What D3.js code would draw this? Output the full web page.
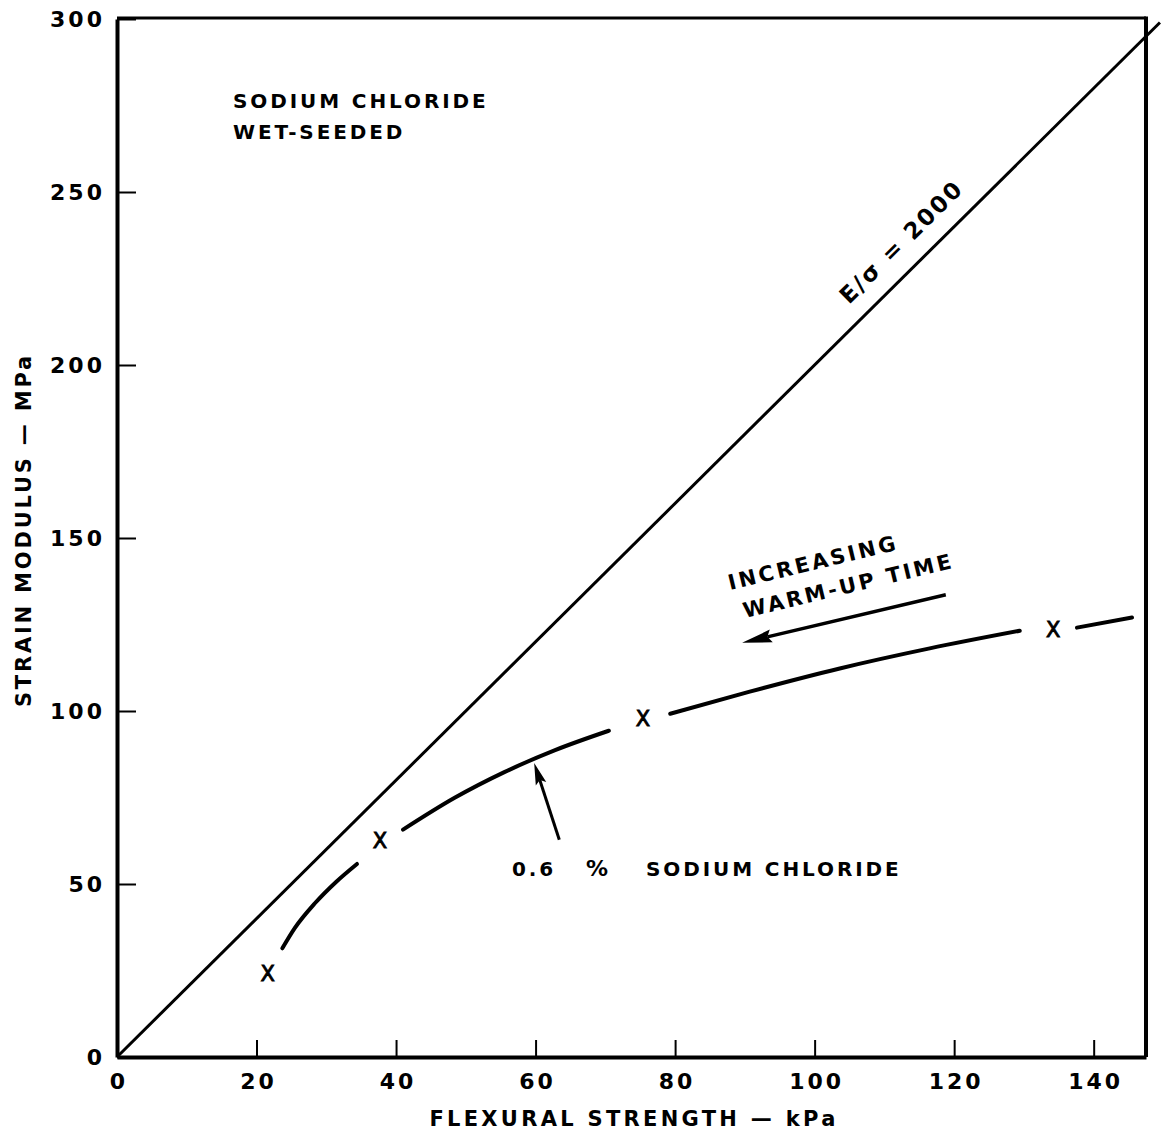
<!DOCTYPE html>
<html>
<head>
<meta charset="utf-8">
<script src="https://cdn.jsdelivr.net/npm/d3@7"></script>
<style>
  body { margin: 0; background: #fff; }
  text { font-family: "DejaVu Sans", sans-serif; font-weight: bold; fill: #000; }
</style>
</head>
<body>
<script>
// strain modulus vs flexural strength, sodium chloride wet-seeded
var xTicks = [0, 20, 40, 60, 80, 100, 120, 140];
var yTicks = [0, 50, 100, 150, 200, 250, 300];

// E/sigma = 2000  ->  MPa = 2 * kPa
var ratio = 2;
var ratioSpan = [0, 149.5];

// 0.6 % sodium chloride curve, drawn in pieces broken at the X points
var curveSegs = [
  [[23.7, 31.4], [25.5, 37.3], [28.4, 44.5], [31.4, 50.6], [34.4, 55.8]],
  [[41.0, 65.7], [48.4, 74.9], [55.6, 82.4], [62.8, 88.7], [70.5, 94.3]],
  [[79.3, 99.2], [90.7, 105.6], [103.6, 112.3], [116.5, 118.1], [129.4, 123.2]],
  [[137.6, 124.1], [145.5, 127.0]]
];
var markers = [[21.6, 24.3], [37.7, 62.8], [75.4, 98.1], [134.2, 123.8]];

// annotation arrows [from, to] in data units
var arrowWarm = [[118.8, 133.6], [89.6, 119.7]];
var arrowSalt = [[63.4, 62.8], [59.8, 85.0]];

var W = 1161, H = 1139;
var mLeft = 117, mRight = 1146, mTop = 18, mBottom = 1057;

var svg = d3.select("body").append("svg")
                           .attr("width", W)
                           .attr("height", H);

var x = d3.scaleLinear().domain([0, 147.5]).range([mLeft, mRight]);
var y = d3.scaleLinear().domain([0, 300]).range([mBottom, mTop + 1]);

// frame
svg.append("line").attr("x1", mLeft).attr("x2", mRight).attr("y1", mTop).attr("y2", mTop)
   .attr("stroke", "#000").attr("stroke-width", 3);
svg.append("line").attr("x1", mRight).attr("x2", mRight).attr("y1", mTop - 1.5).attr("y2", mBottom)
   .attr("stroke", "#000").attr("stroke-width", 4);

var xAxis = svg.append("g")
               .attr("transform", "translate(0," + mBottom + ")")
               .call(d3.axisBottom(x).tickValues(xTicks).tickSizeInner(-17).tickSizeOuter(0).tickPadding(16));
var yAxis = svg.append("g")
               .attr("transform", "translate(" + mLeft + ",0)")
               .call(d3.axisLeft(y).tickValues(yTicks).tickSizeInner(-19).tickSizeOuter(0).tickPadding(12));

[xAxis, yAxis].forEach(function(a) {
  a.select(".domain").attr("stroke-width", 4).attr("stroke", "#000");
  a.selectAll(".tick line").attr("stroke-width", 2).attr("stroke", "#000");
  a.selectAll(".tick text")
   .attr("font-size", 22).attr("letter-spacing", 3)
   .style("font-family", "DejaVu Sans").style("font-weight", "bold");
});
xAxis.selectAll(".tick text").attr("dx", 1.5);

// axis titles
svg.append("text").attr("x", 634).attr("y", 1126)
   .attr("text-anchor", "middle").attr("font-size", 21).attr("letter-spacing", 3.3)
   .text("FLEXURAL STRENGTH \u2014 kPa");
svg.append("text").attr("transform", "translate(31,530) rotate(-90)")
   .attr("text-anchor", "middle").attr("font-size", 21).attr("letter-spacing", 2.8)
   .text("STRAIN MODULUS \u2014 MPa");

// E/sigma line
svg.append("line")
   .attr("x1", x(ratioSpan[0])).attr("y1", y(ratioSpan[0] * ratio))
   .attr("x2", x(ratioSpan[1])).attr("y2", y(ratioSpan[1] * ratio))
   .attr("stroke", "#000").attr("stroke-width", 3);

var ang = Math.atan2(y(100 * ratio) - y(0), x(100) - x(0)) * 180 / Math.PI;
svg.append("text")
   .attr("transform", "translate(" + (x(105.2) - 2) + "," + (y(210.4) - 24) + ") rotate(" + ang + ")")
   .attr("font-size", 23).attr("letter-spacing", 2.2)
   .text("E/\u03c3 = 2000");

// curve
var line = d3.line()
             .x(function(d) { return x(d[0]); })
             .y(function(d) { return y(d[1]); })
             .curve(d3.curveMonotoneX);

svg.selectAll("path.seg")
   .data(curveSegs)
   .enter()
   .append("path")
   .attr("class", "seg")
   .attr("d", line)
   .attr("fill", "none")
   .attr("stroke", "#000")
   .attr("stroke-width", 4)
   .attr("stroke-linecap", "round");

svg.selectAll("text.mark")
   .data(markers)
   .enter()
   .append("text")
   .attr("class", "mark")
   .attr("x", function(d) { return x(d[0]); })
   .attr("y", function(d) { return y(d[1]) + 8; })
   .attr("text-anchor", "middle")
   .attr("font-size", 21)
   .style("font-weight", "normal")
   .style("stroke", "#000").style("stroke-width", 0.9)
   .text("X");

// arrows
function arrow(a, head, width, sw) {
  var x0 = x(a[0][0]), y0 = y(a[0][1]), x1 = x(a[1][0]), y1 = y(a[1][1]);
  var dx = x1 - x0, dy = y1 - y0, L = Math.sqrt(dx * dx + dy * dy);
  var ux = dx / L, uy = dy / L;
  var bx = x1 - ux * head, by = y1 - uy * head;
  svg.append("line").attr("x1", x0).attr("y1", y0).attr("x2", bx + ux * 4).attr("y2", by + uy * 4)
     .attr("stroke", "#000").attr("stroke-width", sw);
  svg.append("path")
     .attr("d", "M" + x1 + "," + y1 +
                "L" + (bx - uy * width / 2) + "," + (by + ux * width / 2) +
                "L" + (bx + ux * 4) + "," + (by + uy * 4) +
                "L" + (bx + uy * width / 2) + "," + (by - ux * width / 2) + "Z")
     .attr("fill", "#000");
}
arrow(arrowWarm, 30, 13, 3.5);
arrow(arrowSalt, 22, 11, 3);

// labels
svg.append("text").attr("x", 233).attr("y", 108).attr("font-size", 20).attr("letter-spacing", 2.9)
   .text("SODIUM CHLORIDE");
svg.append("text").attr("x", 233).attr("y", 139).attr("font-size", 20).attr("letter-spacing", 2.9)
   .text("WET-SEEDED");

var salt = svg.append("text").attr("y", 876).attr("font-size", 20).attr("letter-spacing", 2.9);
salt.append("tspan").attr("x", 512).text("0.6");
salt.append("tspan").attr("x", 586).attr("font-size", 22).text("%");
salt.append("tspan").attr("x", 646).attr("font-size", 20).text("SODIUM CHLORIDE");

svg.append("text").attr("transform", "translate(730,590) rotate(-13.5)")
   .attr("font-size", 21).attr("letter-spacing", 2.9)
   .text("INCREASING");
svg.append("text").attr("transform", "translate(745,618) rotate(-13.5)")
   .attr("font-size", 21).attr("letter-spacing", 2.9)
   .text("WARM-UP TIME");
</script>
</body>
</html>
